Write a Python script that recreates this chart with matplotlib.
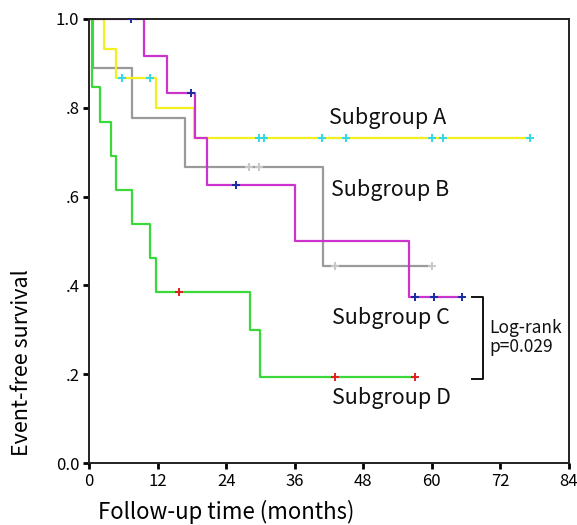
import matplotlib
matplotlib.use("Agg")
import matplotlib.pyplot as plt

plt.rcParams['font.family'] = ['Noto Sans CJK JP', 'DejaVu Sans']

# Subgroup A (yellow)
a_t = [0, 2.6, 4.8, 11.8, 18.3]
a_s = [1.0, 0.933, 0.867, 0.80, 0.733]
a_end = 77.2
a_cens = [5.7, 10.7, 29.7, 30.6, 40.8, 45.0, 60.1, 61.9, 77.2]

# Subgroup B (gray)
b_t = [0, 0.7, 7.6, 16.8, 41.0]
b_s = [1.0, 0.889, 0.778, 0.667, 0.444]
b_end = 60.1
b_cens = [28.0, 29.7, 43.0, 60.1]

# Subgroup C (magenta)
c_t = [0, 9.7, 13.7, 18.6, 20.7, 36.0, 56.0]
c_s = [1.0, 0.917, 0.833, 0.733, 0.625, 0.50, 0.375]
c_end = 65.2
c_cens = [7.4, 17.9, 25.8, 57.1, 60.3, 65.2]

# Subgroup D (green)
d_t = [0, 0.5, 1.9, 3.9, 4.8, 7.6, 10.7, 11.8, 28.1, 29.9]
d_s = [1.0, 0.846, 0.769, 0.692, 0.615, 0.538, 0.462, 0.385, 0.30, 0.193]
d_end = 57.1
d_cens = [15.8, 43.0, 57.1]

x_ticks = [0, 12, 24, 36, 48, 60, 72, 84]
y_ticks = [0.0, 0.2, 0.4, 0.6, 0.8, 1.0]
y_ticklabels = ["0.0", ".2", ".4", ".6", ".8", "1.0"]

groups = [
    ("Subgroup B", b_t, b_s, b_end, b_cens, "#9a9a9a", "#c8c8c8"),
    ("Subgroup A", a_t, a_s, a_end, a_cens, "#f2f020", "#30d8e8"),
    ("Subgroup C", c_t, c_s, c_end, c_cens, "#cc33cc", "#1a2aa0"),
    ("Subgroup D", d_t, d_s, d_end, d_cens, "#3ad83a", "#e02020"),
]


def surv_at(t, times, surv):
    v = surv[0]
    for ti, si in zip(times, surv):
        if ti <= t:
            v = si
    return v


fig = plt.figure(figsize=(5.77, 5.25), dpi=100)
ax = fig.add_axes([89 / 577, 1 - 463 / 525, (569 - 89) / 577, (463 - 19) / 525])

for name, t, s, end, cens, col, ccol in groups:
    xs = list(t) + [end]
    ys = list(s) + [s[-1]]
    ax.step(xs, ys, where='post', color=col, lw=1.6, zorder=2)
    cy = [surv_at(c, t, s) for c in cens]
    ax.plot(cens, cy, linestyle='none', marker='+', markersize=6,
            markeredgewidth=1.4, color=ccol, zorder=3)

ax.set_xlim(0, 84)
ax.set_ylim(0, 1.0)
ax.set_xticks(x_ticks)
ax.set_yticks(y_ticks)
ax.set_yticklabels(y_ticklabels)
ax.tick_params(axis='both', labelsize=12, length=4, width=2, direction='out', pad=3)
for sp in ax.spines.values():
    sp.set_linewidth(1.4)
    sp.set_color('#222222')

lab_kw = dict(fontsize=15.5, color='#111111', va='center', ha='left')
ax.text(42.0, 0.777, "Subgroup A", **lab_kw)
ax.text(42.4, 0.615, "Subgroup B", **lab_kw)
ax.text(42.6, 0.327, "Subgroup C", **lab_kw)
ax.text(42.6, 0.146, "Subgroup D", **lab_kw)

# bracket
ax.plot([67.0, 68.9, 68.9, 67.0], [0.375, 0.375, 0.19, 0.19], color='#111111', lw=1.4)
ax.text(70.0, 0.283, "Log-rank\np=0.029", fontsize=12.5, va='center', ha='left',
        linespacing=1.1, color='#111111')

fig.text(0.038, 0.31, "Event-free survival", rotation=90, fontsize=15.5,
         va='center', ha='center')
fig.text(0.392, 0.024, "Follow-up time (months)", fontsize=16, va='center', ha='center')

fig.savefig("out.png", dpi=100)
